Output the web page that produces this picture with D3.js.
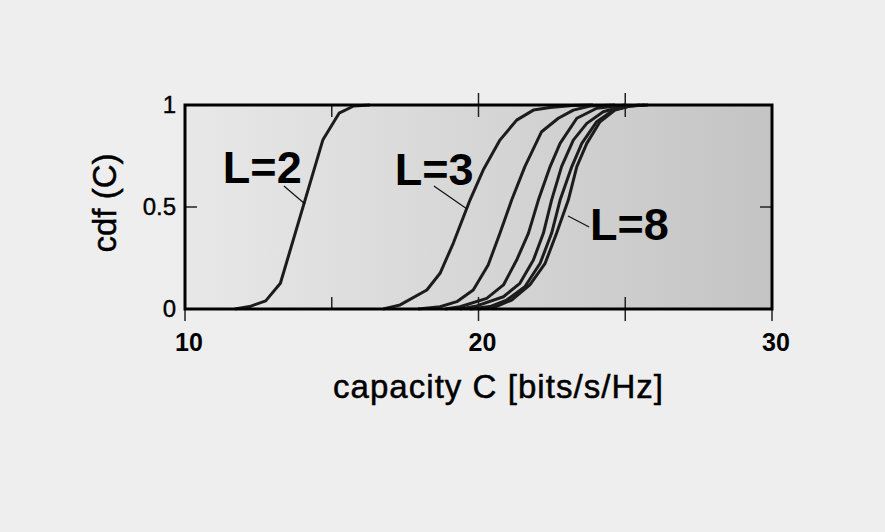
<!DOCTYPE html>
<html><head><meta charset="utf-8">
<script src="https://cdn.jsdelivr.net/npm/d3@7"></script>
<style>html,body{margin:0;padding:0;background:#eeeeee;} svg{display:block;}</style>
</head><body>
<svg id="chart" width="885" height="532"></svg>
<script>
// ---- data ----
const xTicks = [10, 15, 20, 25, 30];
const xTickLabels = ["10", "", "20", "", "30"];
const yTicks = [0, 0.5, 1];
const yTickLabels = ["0", "0.5", "1"];
const seriesNames = ["L=2", "L=3", "L=4", "L=5", "L=6", "L=7", "L=8"];
const cdfL2 = [[11.7,0],[12.2,0.012],[12.75,0.04],[13.25,0.126],[14.7,0.83],[15.25,0.96],[15.75,0.995],[16.3,1]];
const cdfL3 = [[16.75,0],[17.33,0.02],[18.24,0.093],[18.69,0.175],[19.14,0.322],[19.71,0.534],[20.16,0.681],[20.73,0.828],[21.3,0.926],[21.87,0.975],[22.44,0.988],[23.22,0.997],[23.9,1]];
const cdfL4 = [[17.94,0],[18.69,0.011],[19.26,0.036],[19.82,0.093],[20.33,0.216],[20.73,0.371],[21.13,0.534],[21.58,0.698],[22.15,0.869],[22.72,0.935],[23.23,0.975],[23.8,0.995],[24.65,1]];
const cdfL5 = [[18.86,0],[19.37,0.011],[20.28,0.052],[20.85,0.118],[21.3,0.24],[21.7,0.371],[22.04,0.534],[22.44,0.698],[22.78,0.812],[23.35,0.935],[24.03,0.984],[25.0,1]];
const cdfL6 = [[19.37,0],[19.94,0.015],[20.85,0.06],[21.41,0.126],[21.87,0.24],[22.21,0.371],[22.49,0.534],[22.83,0.698],[23.23,0.828],[23.69,0.91],[24.25,0.967],[24.82,0.99],[25.5,1]];
const cdfL7 = [[19.71,0],[20.39,0.012],[20.96,0.044],[21.58,0.109],[22.1,0.224],[22.49,0.371],[22.78,0.534],[23.18,0.698],[23.52,0.812],[24.03,0.918],[24.59,0.975],[25.16,0.995],[25.67,1]];
const cdfL8 = [[19.98,0],[20.6,0.012],[21.13,0.044],[21.75,0.118],[22.27,0.224],[22.66,0.371],[23.06,0.534],[23.35,0.698],[23.69,0.812],[24.14,0.918],[24.65,0.975],[25.16,0.995],[25.78,1]];
const allSeries = [cdfL2, cdfL3, cdfL4, cdfL5, cdfL6, cdfL7, cdfL8];
// annotation labels (data units)
const labelTexts = ["L=2", "L=3", "L=8"];
const labelAt = [[11.29, 0.618], [17.15, 0.608], [23.8, 0.338]];
const leaderFrom = [[13.37, 0.603], [18.48, 0.603], [23.05, 0.456]];
const leaderTo = [[14.09, 0.515], [19.61, 0.49], [23.77, 0.402]];
const xTitle = "capacity C [bits/s/Hz]";
const yTitle = "cdf (C)";

// ---- drawing ----
const FONT = "Liberation Sans, Arial, sans-serif";
const svg = d3.select("#chart");
const x = d3.scaleLinear().domain([10, 30]).range([185, 772]);
const y = d3.scaleLinear().domain([0, 1]).range([309, 105]);

const defs = svg.append("defs");
const grad = defs.append("linearGradient").attr("id", "bg").attr("x1", "0").attr("x2", "1").attr("y1", "0").attr("y2", "0");
grad.append("stop").attr("offset", "0").attr("stop-color", "#e8e8e8");
grad.append("stop").attr("offset", "1").attr("stop-color", "#c4c4c4");

svg.append("rect").attr("x", x(10)).attr("y", y(1)).attr("width", x(30) - x(10)).attr("height", y(0) - y(1)).attr("fill", "url(#bg)");

// ticks
const tickG = svg.append("g").attr("stroke", "#222").attr("stroke-width", 1.5);
const innerX = [15, 20, 25];
const outerBottom = [10, 20, 25, 30];
const outerTop = [20, 25];
innerX.forEach(v => {
  tickG.append("line").attr("x1", x(v)).attr("x2", x(v)).attr("y1", y(0)).attr("y2", y(0) - 12);
  tickG.append("line").attr("x1", x(v)).attr("x2", x(v)).attr("y1", y(1)).attr("y2", y(1) + 12);
});
outerBottom.forEach(v => tickG.append("line").attr("x1", x(v)).attr("x2", x(v)).attr("y1", y(0)).attr("y2", y(0) + 12));
outerTop.forEach(v => tickG.append("line").attr("x1", x(v)).attr("x2", x(v)).attr("y1", y(1)).attr("y2", y(1) - 12));
tickG.append("line").attr("x1", x(10)).attr("x2", x(10) + 12).attr("y1", y(0.5)).attr("y2", y(0.5));
tickG.append("line").attr("x1", x(30)).attr("x2", x(30) - 12).attr("y1", y(0.5)).attr("y2", y(0.5));

// curves
const line = d3.line().x(d => x(d[0])).y(d => y(d[1])).curve(d3.curveLinear);
svg.append("g").selectAll("path").data(allSeries).join("path")
  .attr("d", line).attr("fill", "none").attr("stroke", "#1c1c1c").attr("stroke-width", 3).attr("stroke-linejoin", "round");

// frame
svg.append("rect").attr("x", x(10)).attr("y", y(1)).attr("width", x(30) - x(10)).attr("height", y(0) - y(1))
  .attr("fill", "none").attr("stroke", "#000").attr("stroke-width", 3);

// tick labels
svg.append("g").selectAll("text").data(xTicks).join("text")
  .attr("x", d => x(d) + 4).attr("y", 351).attr("text-anchor", "middle")
  .attr("font-family", FONT).attr("font-weight", "bold").attr("font-size", 25)
  .attr("fill", "#000").text((d, i) => xTickLabels[i]);
svg.append("g").selectAll("text").data(yTicks).join("text")
  .attr("x", 176).attr("y", d => y(d) + 8).attr("text-anchor", "end")
  .attr("font-family", FONT).attr("font-size", 24)
  .attr("fill", "#000").attr("stroke", "#000").attr("stroke-width", 0.4).text((d, i) => yTickLabels[i]);

// axis titles
svg.append("text").attr("x", 498).attr("y", 398).attr("text-anchor", "middle")
  .attr("font-family", FONT).attr("font-size", 33)
  .attr("textLength", 330).attr("lengthAdjust", "spacing")
  .attr("fill", "#000").attr("stroke", "#000").attr("stroke-width", 0.5).text(xTitle);
svg.append("text").attr("transform", "translate(116,203) rotate(-90)").attr("text-anchor", "middle")
  .attr("font-family", FONT).attr("font-size", 33)
  .attr("fill", "#000").attr("stroke", "#000").attr("stroke-width", 0.5).text(yTitle);

// annotations
const ann = svg.append("g");
labelTexts.forEach((t, i) => {
  ann.append("line").attr("x1", x(leaderFrom[i][0])).attr("y1", y(leaderFrom[i][1]))
    .attr("x2", x(leaderTo[i][0])).attr("y2", y(leaderTo[i][1])).attr("stroke", "#111").attr("stroke-width", 1.2);
  ann.append("text").attr("x", x(labelAt[i][0])).attr("y", y(labelAt[i][1]))
    .attr("font-family", FONT).attr("font-weight", "bold").attr("font-size", 45)
    .attr("fill", "#000").text(t);
});
</script>
</body></html>
